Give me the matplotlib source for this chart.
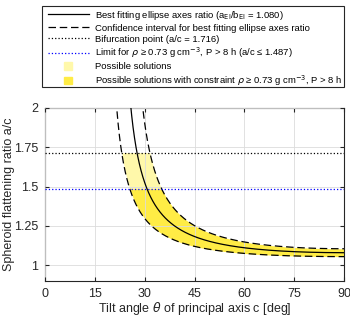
import matplotlib
matplotlib.use("Agg")
import matplotlib.pyplot as plt
from matplotlib.patches import Patch, Rectangle
from matplotlib.lines import Line2D
from matplotlib.legend_handler import HandlerPatch
import numpy as np

# measured ellipse axes ratio and its confidence interval
ratio_best = 1.080
ratio_lo = 1.055
ratio_hi = 1.105
bifurcation = 1.716
density_limit = 1.487

xticks = [0, 15, 30, 45, 60, 75, 90]
yticks = [1, 1.25, 1.5, 1.75, 2]
yticklabels = ["1", "1.25", "1.5", "1.75", "2"]

plt.rcParams['font.family'] = ['Liberation Sans', 'DejaVu Sans']
plt.rcParams['mathtext.fontset'] = 'dejavusans'


def flattening(theta_deg, r):
    # spheroid a/c seen at tilt theta that projects to an ellipse of ratio r
    t = np.radians(theta_deg)
    d = 1.0 / r**2 - np.cos(t)**2
    q = np.full_like(t, np.nan)
    ok = d > 0
    q[ok] = np.sin(t[ok]) / np.sqrt(d[ok])
    return q


def tilt(q, r):
    s2 = (1 - 1.0 / r**2) / (1 - 1.0 / q**2)
    return np.degrees(np.arcsin(np.sqrt(np.clip(s2, 0, 1))))


def square(legend, orig_handle, xdescent, ydescent, width, height, fontsize):
    s = 5.5
    return Rectangle((-xdescent + width / 2 - s / 2, -ydescent + height / 2 - s / 2), s, s)


fig = plt.figure(figsize=(3.5, 3.16), dpi=100)
ax = fig.add_axes([45 / 350, 1 - 281 / 316, 299 / 350, 173 / 316])

# filled bands between the confidence curves
def band(q0, q1):
    q = np.linspace(q0, q1, 400)
    left = tilt(q, ratio_lo)
    right = np.where(q > ratio_hi, tilt(np.maximum(q, ratio_hi + 1e-9), ratio_hi), 90.0)
    return q, left, right

q, l, r = band(ratio_lo + 1e-6, density_limit)
ax.fill_betweenx(q, l, r, color='#FFEC45', lw=0, zorder=1)
q, l, r = band(density_limit, bifurcation)
ax.fill_betweenx(q, l, r, color='#FFF8AA', lw=0, zorder=1)

theta = np.linspace(0.01, 90, 3000)
ax.plot(theta, flattening(theta, ratio_best), 'k-', lw=0.9, zorder=4)
ax.plot(theta, flattening(theta, ratio_lo), 'k--', lw=0.9, dashes=(6, 3), zorder=4)
ax.plot(theta, flattening(theta, ratio_hi), 'k--', lw=0.9, dashes=(6, 3), zorder=4)
ax.axhline(bifurcation, color='k', ls=':', lw=0.9, zorder=4)
ax.axhline(density_limit, color='b', ls=':', lw=0.9, zorder=4)

ax.set_xlim(0, 90)
ax.set_ylim(0.9, 2)
ax.set_xticks(xticks)
ax.set_yticks(yticks)
ax.set_yticklabels(yticklabels)
ax.grid(True, color='#dcdcdc', lw=0.6, zorder=2)
ax.set_axisbelow(False)
for gl in ax.get_xgridlines() + ax.get_ygridlines():
    gl.set_zorder(2)
ax.tick_params(direction='in', length=3, labelsize=9, colors='#262626', top=True, right=True, pad=5)
for s in ax.spines.values():
    s.set_color('#262626')
    s.set_linewidth(0.8)
ax.set_xlabel(r"Tilt angle $\theta$ of principal axis c [deg]", fontsize=9, color='#262626', labelpad=0)
ax.set_ylabel("Spheroid flattening ratio a/c", fontsize=9, color='#262626', labelpad=-1)

handles = [
    Line2D([], [], color='k', lw=0.9),
    Line2D([], [], color='k', lw=0.9, ls='--', dashes=(6, 3)),
    Line2D([], [], color='k', lw=0.9, ls=':'),
    Line2D([], [], color='b', lw=0.9, ls=':'),
    Patch(color='#FFF8AA'),
    Patch(color='#FFEC45'),
]
labels = [
    r"Best fitting ellipse axes ratio (a$_{\mathrm{El}}$/b$_{\mathrm{El}}$ = 1.080)",
    "Confidence interval for best fitting ellipse axes ratio",
    "Bifurcation point (a/c = 1.716)",
    r"Limit for $\rho$ ≥ 0.73 g cm$^{-3}$, P > 8 h (a/c ≤ 1.487)",
    "Possible solutions",
    r"Possible solutions with constraint $\rho$ ≥ 0.73 g cm$^{-3}$, P > 8 h",
]
leg = fig.legend(handles, labels, loc='upper left', bbox_to_anchor=(48 / 350, 1 - 9 / 316),
                 fontsize=6.8, frameon=False, handlelength=4.3,
                 handleheight=0.9, labelspacing=0.19, borderpad=0, handletextpad=0.65,
                 borderaxespad=0, handler_map={Patch: HandlerPatch(patch_func=square)})
# legend box drawn separately
fig.patches.append(Rectangle((42 / 350, 1 - 87 / 316), 302 / 350, 81 / 316, transform=fig.transFigure,
                             fill=False, edgecolor='#262626', lw=0.8))

fig.savefig("out.png", dpi=100)
